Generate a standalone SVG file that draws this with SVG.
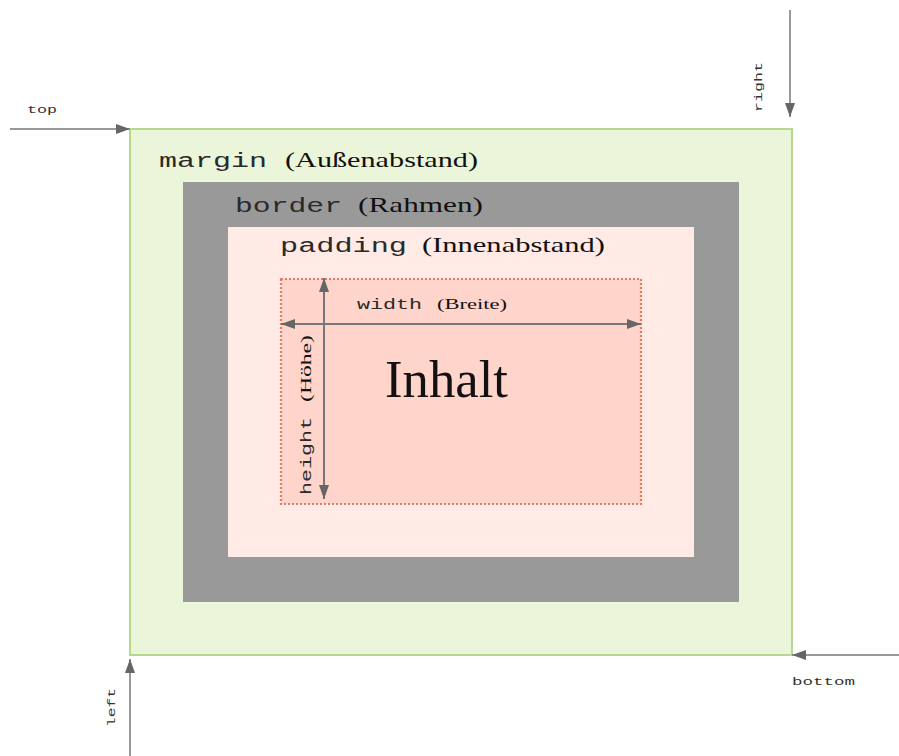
<svg xmlns="http://www.w3.org/2000/svg" width="899" height="756" viewBox="0 0 899 756">
<style>
.mono{font-family:"Liberation Mono","Courier New",monospace;fill:#2a2a2a}
.serif{font-family:"Liberation Serif","Times New Roman",serif;fill:#111}
.small{font-family:"Liberation Mono","Courier New",monospace;font-size:11px;fill:#333}
.outer{stroke:#999;stroke-width:2;fill:none}
.inner{stroke:#777;stroke-width:2;fill:none}
</style>
<defs>
<marker id="ah" viewBox="0 0 14 10" refX="14" refY="5" markerWidth="14" markerHeight="10" markerUnits="userSpaceOnUse" orient="auto-start-reverse">
<path d="M0,0 L14,5 L0,10 Z" fill="#666"/>
</marker>
</defs>
<rect width="899" height="756" fill="#fff"/>
<g id="margin">
<rect x="130" y="129" width="662" height="526" fill="#eaf5da" stroke="#b6d78f" stroke-width="2"/>
<text x="159" y="167" class="mono" font-size="20" textLength="108" lengthAdjust="spacingAndGlyphs">margin</text>
<text x="285" y="167" class="serif" font-size="21" textLength="193" lengthAdjust="spacingAndGlyphs">(Außenabstand)</text>
</g>
<g id="border">
<rect x="183" y="182" width="556" height="420" fill="#999999"/>
<text x="235" y="212" class="mono" font-size="20" textLength="107" lengthAdjust="spacingAndGlyphs">border</text>
<text x="358" y="212" class="serif" font-size="21" textLength="125" lengthAdjust="spacingAndGlyphs">(Rahmen)</text>
</g>
<g id="padding">
<rect x="228" y="227" width="466" height="330" fill="#ffeae5"/>
<text x="280" y="252" class="mono" font-size="20" textLength="127" lengthAdjust="spacingAndGlyphs">padding</text>
<text x="422" y="252" class="serif" font-size="21" textLength="183" lengthAdjust="spacingAndGlyphs">(Innenabstand)</text>
</g>
<g id="content">
<rect x="281" y="279" width="360" height="225" fill="#ffd4ca" stroke="#e67a60" stroke-width="2.2" stroke-dasharray="2,2"/>
<text x="385" y="397" class="serif" font-size="52" textLength="123" lengthAdjust="spacingAndGlyphs">Inhalt</text>
<text x="357" y="309" class="mono" font-size="14" textLength="65" lengthAdjust="spacingAndGlyphs">width</text>
<text x="437" y="309" class="serif" font-size="15" textLength="70" lengthAdjust="spacingAndGlyphs">(Breite)</text>
<text transform="translate(311,495) rotate(-90)" class="mono" font-size="14" textLength="78" lengthAdjust="spacingAndGlyphs">height</text>
<text transform="translate(311,402) rotate(-90)" class="serif" font-size="15" textLength="67" lengthAdjust="spacingAndGlyphs">(Höhe)</text>
</g>
<g id="labels">
<text x="27" y="113" class="small" textLength="30" lengthAdjust="spacingAndGlyphs">top</text>
<text transform="translate(762,112) rotate(-90)" class="small" textLength="50" lengthAdjust="spacingAndGlyphs">right</text>
<text transform="translate(115,727) rotate(-90)" class="small" textLength="39" lengthAdjust="spacingAndGlyphs">left</text>
<text x="792" y="685" class="small" textLength="63" lengthAdjust="spacingAndGlyphs">bottom</text>
</g>
<g id="connectors">
<line x1="10" y1="129" x2="130" y2="129" class="outer" marker-end="url(#ah)"/>
<line x1="790" y1="10" x2="790" y2="117" class="outer" marker-end="url(#ah)"/>
<line x1="130" y1="756" x2="130" y2="659" class="outer" marker-end="url(#ah)"/>
<line x1="899" y1="655" x2="792" y2="655" class="outer" marker-end="url(#ah)"/>
<line x1="281" y1="324" x2="641" y2="324" class="inner" marker-start="url(#ah)" marker-end="url(#ah)"/>
<line x1="324" y1="278" x2="324" y2="499" class="inner" marker-start="url(#ah)" marker-end="url(#ah)"/>
</g>
</svg>
